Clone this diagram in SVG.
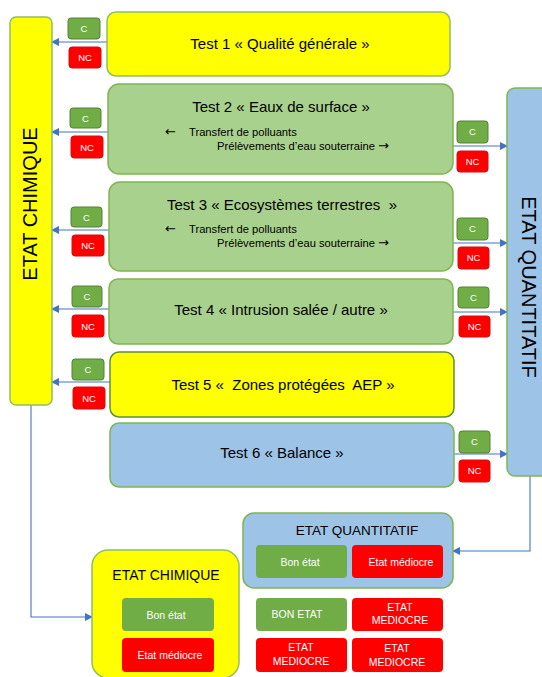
<svg xmlns="http://www.w3.org/2000/svg" width="542" height="677" viewBox="0 0 542 677">
<style>
text{font-family:"Liberation Sans",Arial,sans-serif;fill:#000;white-space:pre}
.yel{fill:#ffff00;stroke:#8fbf5f;stroke-width:1.5}
.grn{fill:#a9d18e;stroke:#7fb552;stroke-width:1.5}
.blu{fill:#9dc3e6;stroke:#7fb552;stroke-width:1.5}
.c{fill:#70ad47;stroke:#548235;stroke-width:1}
.nc{fill:#ff0000;stroke:#d01010;stroke-width:1}
.ct{fill:#fff;font-size:9.5px;text-anchor:middle}
.title{font-size:15px;text-anchor:middle}
.sub{font-size:11.2px}
.arr{font-family:"DejaVu Sans",sans-serif;font-size:13px}
.big{font-size:20px;text-anchor:middle}
.lbl{fill:#fff;font-size:10.5px;text-anchor:middle}
.okb{fill:#70ad47;stroke:none}
.badb{fill:#ff0000;stroke:none}
.conn{stroke:#4472c4;stroke-width:1.1;fill:none}
</style>
<defs>
<marker id="ah" markerWidth="8" markerHeight="8" refX="7" refY="4" orient="auto" markerUnits="userSpaceOnUse">
<path d="M0,0 L8,4 L0,8 Z" fill="#4472c4"/>
</marker>
</defs>

<g id="connectors">
<line class="conn" x1="107" y1="42" x2="52" y2="42" marker-end="url(#ah)"/>
<line class="conn" x1="108" y1="132" x2="52" y2="132" marker-end="url(#ah)"/>
<line class="conn" x1="109" y1="230" x2="52" y2="230" marker-end="url(#ah)"/>
<line class="conn" x1="109" y1="309" x2="52" y2="309" marker-end="url(#ah)"/>
<line class="conn" x1="110" y1="382" x2="52" y2="382" marker-end="url(#ah)"/>
<line class="conn" x1="453" y1="146" x2="507" y2="146" marker-end="url(#ah)"/>
<line class="conn" x1="453" y1="243" x2="507" y2="243" marker-end="url(#ah)"/>
<line class="conn" x1="453" y1="312" x2="507" y2="312" marker-end="url(#ah)"/>
<line class="conn" x1="454" y1="454" x2="507" y2="454" marker-end="url(#ah)"/>
<polyline class="conn" points="31,405 31,617 92,617" marker-end="url(#ah)"/>
<polyline class="conn" points="530,476 530,551 453,551" marker-end="url(#ah)"/>
</g>

<g id="etat-chimique-col">
<rect class="yel" x="10" y="17" width="42" height="388" rx="6"/>
<text class="big" transform="translate(37,204) rotate(-90)">ETAT CHIMIQUE</text>
</g>

<g id="etat-quantitatif-col">
<rect class="blu" x="507" y="88" width="50" height="388" rx="8"/>
<text class="big" transform="translate(522,287) rotate(90)">ETAT QUANTITATIF</text>
</g>

<g id="test1">
<rect class="yel" x="107" y="12" width="343" height="64" rx="9"/>
<text class="title" x="280" y="49">Test 1 « Qualité générale »</text>
</g>
<g id="test2">
<rect class="grn" x="108" y="84" width="345" height="90" rx="11"/>
<text class="title" x="281" y="112">Test 2 « Eaux de surface »</text>
<text class="arr" x="165" y="136">←</text>
<text class="sub" x="189" y="136">Transfert de polluants</text>
<text class="sub" x="217" y="150">Prélèvements d’eau souterraine <tspan class="arr">→</tspan></text>
</g>
<g id="test3">
<rect class="grn" x="109" y="182" width="344" height="89" rx="11"/>
<text class="title" x="282" y="210">Test 3 « Ecosystèmes terrestres  »</text>
<text class="arr" x="165" y="233">←</text>
<text class="sub" x="189" y="233">Transfert de polluants</text>
<text class="sub" x="217" y="247">Prélèvements d’eau souterraine <tspan class="arr">→</tspan></text>
</g>
<g id="test4">
<rect class="grn" x="109" y="279" width="344" height="65" rx="9"/>
<text class="title" x="281" y="315">Test 4 « Intrusion salée / autre »</text>
</g>
<g id="test5">
<rect x="110" y="352" width="344" height="65" rx="9" fill="#ffff00" stroke="#5f8f3a" stroke-width="1.5"/>
<text class="title" x="283" y="390">Test 5 «  Zones protégées  AEP »</text>
</g>
<g id="test6">
<rect class="blu" x="110" y="423" width="344" height="64" rx="9"/>
<text class="title" x="282" y="458">Test 6 « Balance »</text>
</g>

<g id="cnc-left-1">
<rect class="c" x="68" y="18" width="32" height="21" rx="3"/><text class="ct" x="84" y="32">C</text>
<rect class="nc" x="69" y="47" width="32" height="21" rx="3"/><text class="ct" x="85" y="61">NC</text>
</g>
<g id="cnc-left-2">
<rect class="c" x="70" y="108" width="31" height="20" rx="3"/><text class="ct" x="85.5" y="122">C</text>
<rect class="nc" x="71" y="136" width="32" height="22" rx="3"/><text class="ct" x="87" y="151">NC</text>
</g>
<g id="cnc-left-3">
<rect class="c" x="71" y="207" width="31" height="20" rx="3"/><text class="ct" x="86.5" y="221">C</text>
<rect class="nc" x="72" y="235" width="32" height="21" rx="3"/><text class="ct" x="88" y="249">NC</text>
</g>
<g id="cnc-left-4">
<rect class="c" x="72" y="286" width="30" height="21" rx="3"/><text class="ct" x="87" y="300">C</text>
<rect class="nc" x="72" y="315" width="32" height="22" rx="3"/><text class="ct" x="88" y="330">NC</text>
</g>
<g id="cnc-left-5">
<rect class="c" x="72" y="359" width="32" height="21" rx="3"/><text class="ct" x="88" y="373">C</text>
<rect class="nc" x="73" y="387" width="32" height="22" rx="3"/><text class="ct" x="89" y="402">NC</text>
</g>

<g id="cnc-right-2">
<rect class="c" x="457" y="121" width="31" height="22" rx="3"/><text class="ct" x="472.5" y="135">C</text>
<rect class="nc" x="457" y="151" width="31" height="21" rx="3"/><text class="ct" x="472.5" y="165">NC</text>
</g>
<g id="cnc-right-3">
<rect class="c" x="457" y="218" width="31" height="22" rx="3"/><text class="ct" x="472.5" y="232">C</text>
<rect class="nc" x="458" y="247" width="31" height="22" rx="3"/><text class="ct" x="473.5" y="261">NC</text>
</g>
<g id="cnc-right-4">
<rect class="c" x="458" y="287" width="31" height="21" rx="3"/><text class="ct" x="473.5" y="301">C</text>
<rect class="nc" x="459" y="316" width="31" height="21" rx="3"/><text class="ct" x="474.5" y="330">NC</text>
</g>
<g id="cnc-right-6">
<rect class="c" x="459" y="431" width="31" height="22" rx="3"/><text class="ct" x="474.5" y="445">C</text>
<rect class="nc" x="459" y="460" width="31" height="22" rx="3"/><text class="ct" x="474.5" y="474">NC</text>
</g>

<g id="result-chimique">
<rect class="yel" x="92" y="550" width="147" height="128" rx="16"/>
<text x="166" y="580" font-size="14" text-anchor="middle">ETAT CHIMIQUE</text>
<rect class="okb" x="122" y="598" width="92" height="33" rx="4"/>
<text class="lbl" x="166" y="619">Bon état</text>
<rect class="badb" x="122" y="638" width="92" height="34" rx="4"/>
<text class="lbl" x="170" y="659">Etat médiocre</text>
</g>

<g id="result-quantitatif">
<rect class="blu" x="243" y="513" width="210" height="75" rx="11"/>
<text x="357" y="535" font-size="13.5" text-anchor="middle">ETAT QUANTITATIF</text>
<rect class="okb" x="256" y="545" width="91" height="33" rx="4"/>
<text class="lbl" x="300" y="566">Bon état</text>
<rect class="badb" x="352" y="545" width="91" height="33" rx="4"/>
<text class="lbl" x="401" y="566">Etat médiocre</text>
</g>

<g id="matrix">
<rect class="okb" x="256" y="598" width="91" height="33" rx="4"/>
<text class="lbl" x="297" y="618">BON ETAT</text>
<rect class="badb" x="352" y="598" width="91" height="33" rx="4"/>
<text class="lbl" x="400" y="611">ETAT</text>
<text class="lbl" x="400" y="624">MEDIOCRE</text>
<rect class="badb" x="256" y="638" width="91" height="34" rx="4"/>
<text class="lbl" x="301" y="651">ETAT</text>
<text class="lbl" x="301" y="665">MEDIOCRE</text>
<rect class="badb" x="352" y="638" width="91" height="34" rx="4"/>
<text class="lbl" x="397" y="652">ETAT</text>
<text class="lbl" x="397" y="666">MEDIOCRE</text>
</g>
</svg>
